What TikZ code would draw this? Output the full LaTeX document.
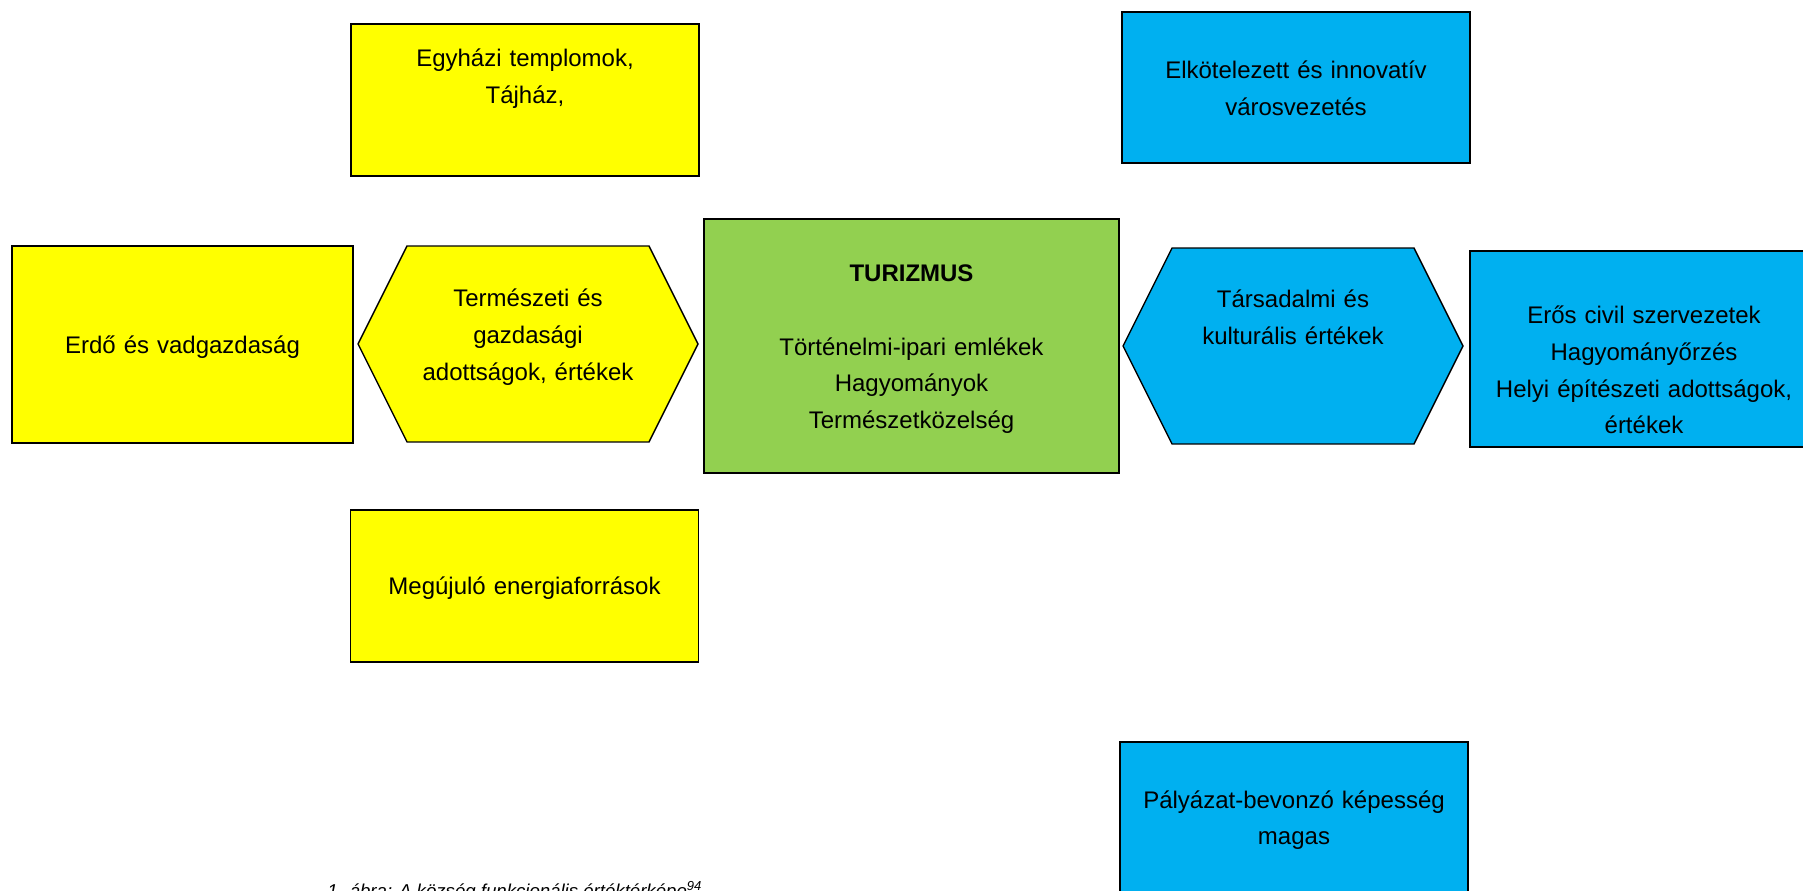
\documentclass[tikz,border=0pt]{standalone}
\usepackage{fontspec}
\setmainfont{Liberation Sans}
\usetikzlibrary{shapes.symbols}
\definecolor{boxyellow}{RGB}{255,255,0}
\definecolor{boxblue}{RGB}{0,176,240}
\definecolor{boxgreen}{RGB}{146,208,80}
\tikzset{
  ybox/.style  ={rectangle, draw=black, line width=0.8pt, fill=boxyellow,
                 minimum width=6.96cm, minimum height=3.04cm},
  bbox/.style  ={rectangle, draw=black, line width=0.8pt, fill=boxblue,
                 minimum width=6.96cm, minimum height=3.04cm},
  gbox/.style  ={rectangle, draw=black, line width=0.8pt, fill=boxgreen,
                 minimum width=8.3cm, minimum height=5.08cm},
  hexa/.style  ={signal, signal to=east and west, signal pointer angle=126.87,
                 draw=black, line width=0.8pt, minimum width=6.8cm, minimum height=3.92cm},
  txt/.style   ={anchor=base, align=center, text width=7cm, inner sep=0pt,
                 font=\fontsize{13.66pt}{20.84pt}\selectfont},
  capt/.style  ={anchor=base west, inner sep=0pt,
                 font=\fontsize{10.6pt}{13pt}\selectfont\itshape}
}
\begin{document}
\begin{tikzpicture}[x=0.02cm, y=-0.02cm]
\clip (0,0) rectangle (1803,891);
\fill[white] (0,0) rectangle (1803,891);
% upper row
\node[ybox] (tmpl) at (525,100) {};
\node[bbox, minimum height=3.02cm] (vezet) at (1296,87.5) {};
% middle row
\node[ybox, minimum width=6.82cm, minimum height=3.94cm] (erdo) at (182.5,344.5) {};
\node[hexa, fill=boxyellow] (termesz) at (528,344) {};
\node[gbox] (turiz) at (911.5,346) {};
\node[hexa, fill=boxblue] (tarsad) at (1293,346) {};
\node[bbox, minimum height=3.92cm] (civil) at (1644,349) {};
% lower row
\node[ybox] (energia) at (524.5,586) {};
\node[bbox] (palyaz) at (1294,818) {};
% texts
\node[txt] (tmpl-t) at (525,67) {Egyházi templomok,\\Tájház,};
\node[txt] (vezet-t) at (1296,79) {Elkötelezett és innovatív\\városvezetés};
\node[txt] (erdo-t) at (182.5,354) {Erdő és vadgazdaság};
\node[txt] (termesz-t) at (528,307) {Természeti és\\gazdasági\\adottságok, értékek};
\node[txt] (turiz-t) at (911.5,282) {\textbf{TURIZMUS}\\~\\Történelmi-ipari emlékek\\Hagyományok\\Természetközelség};
\node[txt] (tarsad-t) at (1293,308) {Társadalmi és\\kulturális értékek};
\node[txt] (civil-t) at (1644,324) {Erős civil szervezetek\\Hagyományőrzés\\Helyi építészeti adottságok,\\értékek};
\node[txt] (energia-t) at (524.5,595) {Megújuló energiaforrások};
\node[txt] (palyaz-t) at (1294,808) {Pályázat-bevonzó képesség\\magas};
% caption
\node[capt] (capt) at (327,897) {1. ábra: A község funkcionális értéktérképe\textsuperscript{94}};
\end{tikzpicture}
\end{document}
